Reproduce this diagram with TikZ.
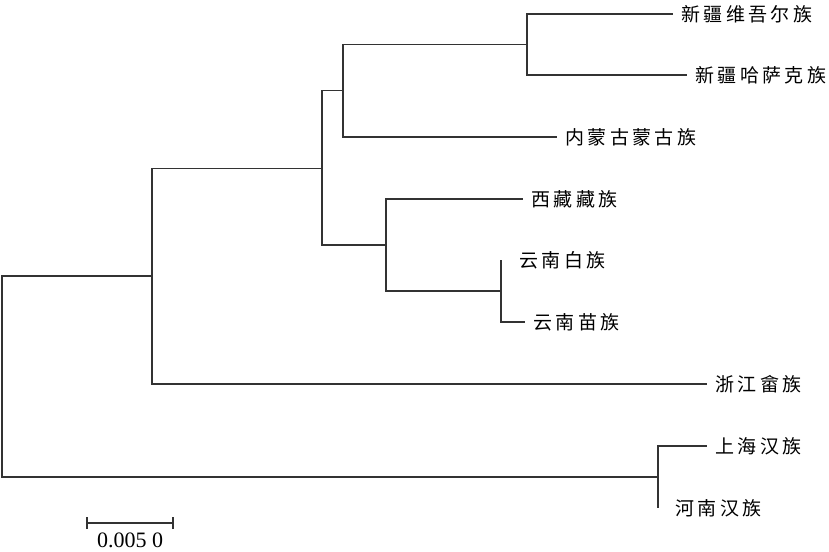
\documentclass[tikz,border=0pt]{standalone}
\usepackage{fontspec}
\setmainfont{Liberation Serif}
\newfontfamily\cjk[LetterSpace=18]{Noto Sans CJK SC}
\begin{document}
\begin{tikzpicture}[x=1pt,y=-1pt, % one unit = one pixel, y downwards
  branch/.style={draw=black!80, line width=1.5pt}, % tree lines
  taxon/.style={anchor=west, inner sep=0pt, xshift=8pt,
                font=\cjk\fontsize{19}{19}\selectfont}] % leaf labels
\useasboundingbox (0,0) rectangle (829,551);
\def\tk{6} % half height of the scale bar ticks

% inner nodes of the tree
\coordinate (root) at (2,377);
\coordinate (na) at (152,276);
\coordinate (nb) at (322,168.5);
\coordinate (nc) at (343,90.5);
\coordinate (nd) at (386,245);
\coordinate (ne) at (527,44.5);
\coordinate (nf) at (501,291);
\coordinate (nh) at (658,477);

% tips
\coordinate (tuy) at (673,14);
\coordinate (tkz) at (687,75);
\coordinate (tmg) at (557,137);
\coordinate (tzz) at (523,199);
\coordinate (tbz) at (501,260);
\coordinate (tmz) at (525,322);
\coordinate (tsh) at (707,384);
\coordinate (tsk) at (707,446);
\coordinate (thn) at (658,508);

% branches, parent |- child
\foreach \p/\c in {root/na, root/nh, na/nb, na/tsh, nb/nc, nb/nd,
                   nc/ne, nc/tmg, ne/tuy, ne/tkz, nd/tzz, nd/nf,
                   nf/tbz, nf/tmz, nh/tsk, nh/thn}
  \draw [branch] (\p) |- (\c);

\node [taxon] (luy) at (tuy) {新疆维吾尔族};
\node [taxon] (lkz) at (tkz) {新疆哈萨克族};
\node [taxon] (lmg) at (tmg) {内蒙古蒙古族};
\node [taxon] (lzz) at (tzz) {西藏藏族};
\node [taxon, xshift=10pt] (lbz) at (tbz) {云南白族};
\node [taxon] (lmz) at (tmz) {云南苗族};
\node [taxon] (lsh) at (tsh) {浙江畲族};
\node [taxon] (lsk) at (tsk) {上海汉族};
\node [taxon, xshift=9pt] (lhn) at (thn) {河南汉族};

% scale bar
\coordinate (s1) at (87,523);
\coordinate (s2) at (173,523);
\draw [branch] (s1) -- (s2);
\draw [branch] ([yshift=-\tk pt]s1) -- ([yshift=\tk pt]s1);
\draw [branch] ([yshift=-\tk pt]s2) -- ([yshift=\tk pt]s2);
\node [font=\fontsize{22}{22}\selectfont, inner sep=0pt] (scale) at (130,540) {0.005 0};
\end{tikzpicture}
\end{document}
